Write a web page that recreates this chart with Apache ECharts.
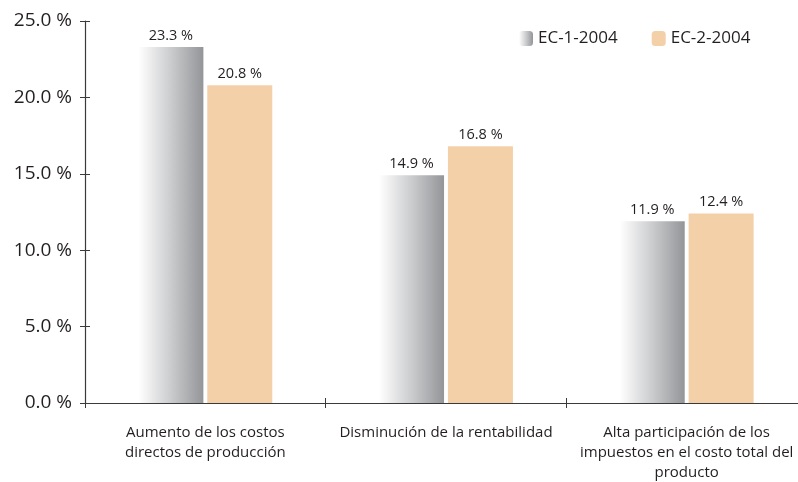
<!DOCTYPE html>
<html>
<head>
<meta charset="utf-8">
<script src="https://cdn.jsdelivr.net/npm/echarts@6/dist/echarts.min.js"></script>
<style>
  html, body { margin: 0; padding: 0; background: #ffffff; }
  #chart { width: 798px; height: 482px; }
</style>
</head>
<body>
<div id="chart"></div>
<script>
// Categories and values for each series (percent)
const categories = [
  'Aumento de los costos\ndirectos de producción',
  'Disminución de la rentabilidad',
  'Alta participación de los\nimpuestos en el costo total del\nproducto'
];
const seriesNames = ['EC-1-2004', 'EC-2-2004'];
const ec1Values = [23.3, 14.9, 11.9];
const ec2Values = [20.8, 16.8, 12.4];
const yTicks = [0, 5, 10, 15, 20, 25];

const textColor = '#231f20';
const fontFamily = '"Open Sans", "Noto Sans", sans-serif';

const grayGradient = new echarts.graphic.LinearGradient(0, 0, 1, 0, [
  { offset: 0, color: '#ffffff' },
  { offset: 0.5, color: '#cbccce' },
  { offset: 1, color: '#939598' }
]);
const peach = '#f4d0a8';

const chart = echarts.init(document.getElementById('chart'), null, { renderer: 'canvas' });

const labelStyle = {
  show: true,
  position: 'top',
  distance: 4,
  color: textColor,
  fontFamily: fontFamily,
  fontSize: 14.5,
  formatter: p => p.value.toFixed(1) + ' %'
};

chart.setOption({
  animation: false,
  backgroundColor: '#ffffff',
  textStyle: { fontFamily: fontFamily, color: textColor },
  legend: {
    top: 30,
    left: 519,
    padding: 0,
    itemWidth: 14,
    itemHeight: 15,
    itemGap: 34,
    textStyle: { fontSize: 17, color: textColor, fontFamily: fontFamily },
    data: seriesNames
  },
  grid: { left: 85, top: 21, width: 722, height: 382, containLabel: false, outerBoundsMode: 'none' },
  xAxis: [
    {
      type: 'category',
      data: categories,
      axisLine: { lineStyle: { color: '#3a3a3a', width: 1.2 } },
      axisTick: { show: true, length: 5, lineStyle: { color: '#3a3a3a' } },
      axisLabel: {
        color: textColor,
        fontSize: 15,
        lineHeight: 20,
        margin: 20,
        fontFamily: fontFamily,
        interval: 0
      }
    },
    {
      type: 'category',
      data: categories,
      position: 'bottom',
      axisLine: { show: false },
      axisTick: { show: true, inside: true, length: 5, lineStyle: { color: '#3a3a3a' } },
      axisLabel: { show: false }
    }
  ],
  yAxis: [
    {
      type: 'value',
      min: 0,
      max: 25,
      interval: 5,
      axisLine: { show: true, lineStyle: { color: '#3a3a3a', width: 1.2 } },
      axisTick: { show: true, length: 5, lineStyle: { color: '#3a3a3a' } },
      splitLine: { show: false },
      axisLabel: {
        color: textColor,
        fontSize: 19,
        margin: 13,
        fontFamily: fontFamily,
        formatter: v => (yTicks.includes(v) ? v.toFixed(1) + ' %' : '')
      }
    },
    {
      type: 'value',
      min: 0,
      max: 25,
      interval: 5,
      position: 'left',
      offset: 0,
      axisLine: { show: false },
      axisTick: { show: true, inside: true, length: 5, lineStyle: { color: '#3a3a3a' } },
      splitLine: { show: false },
      axisLabel: { show: false }
    }
  ],
  series: [
    {
      name: seriesNames[0],
      type: 'bar',
      data: ec1Values,
      barWidth: 65,
      barGap: '6%',
      itemStyle: { color: grayGradient },
      label: labelStyle
    },
    {
      name: seriesNames[1],
      type: 'bar',
      data: ec2Values,
      barWidth: 65,
      itemStyle: { color: peach },
      label: labelStyle
    }
  ]
});
</script>
</body>
</html>
